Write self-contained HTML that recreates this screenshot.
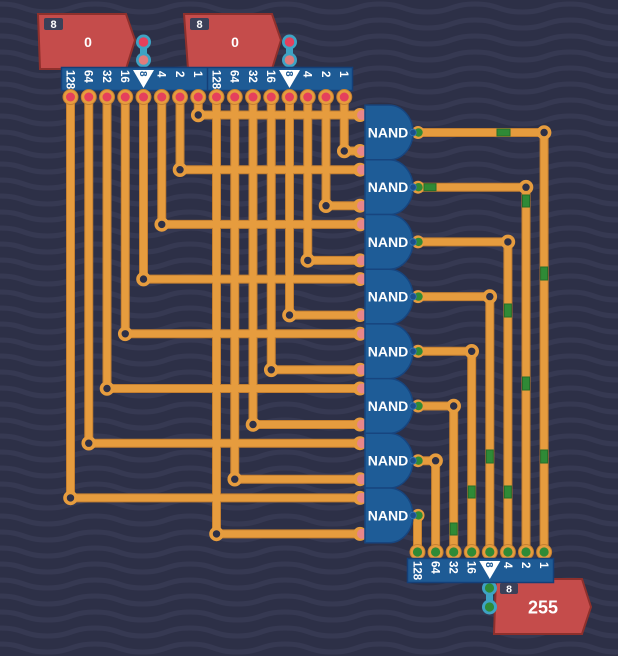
<!DOCTYPE html>
<html><head><meta charset="utf-8"><style>
html,body{margin:0;padding:0;background:#2d3047;}
svg{display:block;}
</style></head><body>
<svg width="618" height="656" viewBox="0 0 618 656" xmlns="http://www.w3.org/2000/svg" font-family="'Liberation Sans', sans-serif">
<defs>
<pattern id="wv" width="95" height="16" patternUnits="userSpaceOnUse">
<path d="M-47.5,12 C-23.75,12 -23.75,4 0,4 C23.75,4 23.75,12 47.5,12 C71.25,12 71.25,4 95,4 C118.75,4 118.75,12 142.5,12" fill="none" stroke="#363952" stroke-width="5"/>
</pattern>
</defs>
<rect width="618" height="656" fill="#2d3047"/>
<rect width="618" height="656" fill="url(#wv)"/>

<!-- input displays -->
<path d="M38,14 L126,14 L135,40 L126,69 L40,69 Z" fill="#c54c4b" stroke="#8e302c" stroke-width="2"/>
<rect x="44" y="18" width="19" height="12" rx="2" fill="#3b4058"/>
<text x="53.5" y="28" font-size="11" font-weight="bold" fill="#fff" text-anchor="middle">8</text>
<text x="88" y="47" font-size="14" font-weight="bold" fill="#fff" text-anchor="middle">0</text>

<path d="M184,14 L272,14 L281,40 L272,69 L188,69 Z" fill="#c54c4b" stroke="#8e302c" stroke-width="2"/>
<rect x="190" y="18" width="19" height="12" rx="2" fill="#3b4058"/>
<text x="199.5" y="28" font-size="11" font-weight="bold" fill="#fff" text-anchor="middle">8</text>
<text x="235" y="47" font-size="14" font-weight="bold" fill="#fff" text-anchor="middle">0</text>

<!-- input links -->
<g fill="#3ea3c4">
<rect x="140" y="42" width="7" height="18"/><circle cx="143.5" cy="42" r="7.5"/><circle cx="143.5" cy="60" r="7.5"/>
<rect x="286" y="42" width="7" height="18"/><circle cx="289.5" cy="42" r="7.5"/><circle cx="289.5" cy="60" r="7.5"/>
</g>
<circle cx="143.5" cy="42" r="4.8" fill="#e5405c"/><circle cx="143.5" cy="60" r="4.8" fill="#e07c7c"/>
<circle cx="289.5" cy="42" r="4.8" fill="#e5405c"/><circle cx="289.5" cy="60" r="4.8" fill="#e07c7c"/>

<!-- input bus -->
<rect x="61.5" y="67.5" width="291" height="23" fill="#1e5b95" stroke="#143f78" stroke-width="1.5"/>
<line x1="207.5" y1="68" x2="207.5" y2="90" stroke="#143f78" stroke-width="1.5"/>
<g fill="#fff" font-size="11.5" font-weight="bold">
<text transform="translate(70.5,70) rotate(90)" dy="0.36em">128</text>
<text transform="translate(88.75,70) rotate(90)" dy="0.36em">64</text>
<text transform="translate(107,70) rotate(90)" dy="0.36em">32</text>
<text transform="translate(125.25,70) rotate(90)" dy="0.36em">16</text>
<text transform="translate(161.75,71) rotate(90)" dy="0.36em">4</text>
<text transform="translate(180,71) rotate(90)" dy="0.36em">2</text>
<text transform="translate(198.25,71) rotate(90)" dy="0.36em">1</text>
<text transform="translate(216.5,70) rotate(90)" dy="0.36em">128</text>
<text transform="translate(234.75,70) rotate(90)" dy="0.36em">64</text>
<text transform="translate(253,70) rotate(90)" dy="0.36em">32</text>
<text transform="translate(271.25,70) rotate(90)" dy="0.36em">16</text>
<text transform="translate(307.75,71) rotate(90)" dy="0.36em">4</text>
<text transform="translate(326,71) rotate(90)" dy="0.36em">2</text>
<text transform="translate(344.25,71) rotate(90)" dy="0.36em">1</text>
</g>
<polygon points="133,70 154,70 143.5,88" fill="#fff"/>
<polygon points="279,70 300,70 289.5,88" fill="#fff"/>
<g fill="#1e5b95" font-size="10" font-weight="bold">
<text transform="translate(143.5,71) rotate(90)" dy="0.36em">8</text>
<text transform="translate(289.5,71) rotate(90)" dy="0.36em">8</text>
</g>

<!-- wires outline -->
<g fill="none" stroke="#c47f30" stroke-width="9" stroke-linejoin="round">
<path d="M198.25,97 V115 H362"/><path d="M344.25,97 V151 H362"/>
<path d="M180,97 V169.7 H362"/><path d="M326,97 V205.7 H362"/>
<path d="M161.75,97 V224.4 H362"/><path d="M307.75,97 V260.4 H362"/>
<path d="M143.5,97 V279.1 H362"/><path d="M289.5,97 V315.1 H362"/>
<path d="M125.25,97 V333.8 H362"/><path d="M271.25,97 V369.8 H362"/>
<path d="M107,97 V388.5 H362"/><path d="M253,97 V424.5 H362"/>
<path d="M88.75,97 V443.2 H362"/><path d="M234.75,97 V479.2 H362"/>
<path d="M70.5,97 V497.9 H362"/><path d="M216.5,97 V533.9 H362"/>
<path d="M418,132.5 H544.1 V552"/><path d="M418,187.2 H526 V552"/>
<path d="M418,241.9 H507.9 V552"/><path d="M418,296.6 H489.8 V552"/>
<path d="M418,351.3 H471.7 V552"/><path d="M418,406 H453.7 V552"/>
<path d="M418,460.7 H435.6 V552"/><path d="M417.5,515.4 V552"/>
</g>
<g fill="none" stroke="#e69c3e" stroke-width="7" stroke-linejoin="round">
<path d="M198.25,97 V115 H362"/><path d="M344.25,97 V151 H362"/>
<path d="M180,97 V169.7 H362"/><path d="M326,97 V205.7 H362"/>
<path d="M161.75,97 V224.4 H362"/><path d="M307.75,97 V260.4 H362"/>
<path d="M143.5,97 V279.1 H362"/><path d="M289.5,97 V315.1 H362"/>
<path d="M125.25,97 V333.8 H362"/><path d="M271.25,97 V369.8 H362"/>
<path d="M107,97 V388.5 H362"/><path d="M253,97 V424.5 H362"/>
<path d="M88.75,97 V443.2 H362"/><path d="M234.75,97 V479.2 H362"/>
<path d="M70.5,97 V497.9 H362"/><path d="M216.5,97 V533.9 H362"/>
<path d="M418,132.5 H544.1 V552"/><path d="M418,187.2 H526 V552"/>
<path d="M418,241.9 H507.9 V552"/><path d="M418,296.6 H489.8 V552"/>
<path d="M418,351.3 H471.7 V552"/><path d="M418,406 H453.7 V552"/>
<path d="M418,460.7 H435.6 V552"/><path d="M417.5,515.4 V552"/>
</g>

<!-- top pins -->
<g fill="#e69c3e" stroke="#c47f30" stroke-width="1">
<circle cx="70.5" cy="97" r="7.5"/><circle cx="88.75" cy="97" r="7.5"/><circle cx="107" cy="97" r="7.5"/><circle cx="125.25" cy="97" r="7.5"/>
<circle cx="143.5" cy="97" r="7.5"/><circle cx="161.75" cy="97" r="7.5"/><circle cx="180" cy="97" r="7.5"/><circle cx="198.25" cy="97" r="7.5"/>
<circle cx="216.5" cy="97" r="7.5"/><circle cx="234.75" cy="97" r="7.5"/><circle cx="253" cy="97" r="7.5"/><circle cx="271.25" cy="97" r="7.5"/>
<circle cx="289.5" cy="97" r="7.5"/><circle cx="307.75" cy="97" r="7.5"/><circle cx="326" cy="97" r="7.5"/><circle cx="344.25" cy="97" r="7.5"/>
</g>
<g fill="#e5405c">
<circle cx="70.5" cy="97" r="4.5"/><circle cx="88.75" cy="97" r="4.5"/><circle cx="107" cy="97" r="4.5"/><circle cx="125.25" cy="97" r="4.5"/>
<circle cx="143.5" cy="97" r="4.5"/><circle cx="161.75" cy="97" r="4.5"/><circle cx="180" cy="97" r="4.5"/><circle cx="198.25" cy="97" r="4.5"/>
<circle cx="216.5" cy="97" r="4.5"/><circle cx="234.75" cy="97" r="4.5"/><circle cx="253" cy="97" r="4.5"/><circle cx="271.25" cy="97" r="4.5"/>
<circle cx="289.5" cy="97" r="4.5"/><circle cx="307.75" cy="97" r="4.5"/><circle cx="326" cy="97" r="4.5"/><circle cx="344.25" cy="97" r="4.5"/>
</g>

<!-- joints -->
<g fill="#2d3047" stroke="#e69c3e" stroke-width="3.6">
<circle cx="198.25" cy="115" r="5.5"/><circle cx="344.25" cy="151" r="5.5"/>
<circle cx="180" cy="169.7" r="5.5"/><circle cx="326" cy="205.7" r="5.5"/>
<circle cx="161.75" cy="224.4" r="5.5"/><circle cx="307.75" cy="260.4" r="5.5"/>
<circle cx="143.5" cy="279.1" r="5.5"/><circle cx="289.5" cy="315.1" r="5.5"/>
<circle cx="125.25" cy="333.8" r="5.5"/><circle cx="271.25" cy="369.8" r="5.5"/>
<circle cx="107" cy="388.5" r="5.5"/><circle cx="253" cy="424.5" r="5.5"/>
<circle cx="88.75" cy="443.2" r="5.5"/><circle cx="234.75" cy="479.2" r="5.5"/>
<circle cx="70.5" cy="497.9" r="5.5"/><circle cx="216.5" cy="533.9" r="5.5"/>
<circle cx="544.1" cy="132.5" r="5.5"/><circle cx="526" cy="187.2" r="5.5"/>
<circle cx="507.9" cy="241.9" r="5.5"/><circle cx="489.8" cy="296.6" r="5.5"/>
<circle cx="471.7" cy="351.3" r="5.5"/><circle cx="453.7" cy="406" r="5.5"/>
<circle cx="435.6" cy="460.7" r="5.5"/>
</g>

<!-- gate input pins -->
<g fill="#e69c3e">
<circle cx="360" cy="115" r="7"/><circle cx="360" cy="151" r="7"/>
<circle cx="360" cy="169.7" r="7"/><circle cx="360" cy="205.7" r="7"/>
<circle cx="360" cy="224.4" r="7"/><circle cx="360" cy="260.4" r="7"/>
<circle cx="360" cy="279.1" r="7"/><circle cx="360" cy="315.1" r="7"/>
<circle cx="360" cy="333.8" r="7"/><circle cx="360" cy="369.8" r="7"/>
<circle cx="360" cy="388.5" r="7"/><circle cx="360" cy="424.5" r="7"/>
<circle cx="360" cy="443.2" r="7"/><circle cx="360" cy="479.2" r="7"/>
<circle cx="360" cy="497.9" r="7"/><circle cx="360" cy="533.9" r="7"/>
</g>
<g fill="#e8868a">
<circle cx="362" cy="115" r="5"/><circle cx="362" cy="151" r="5"/>
<circle cx="362" cy="169.7" r="5"/><circle cx="362" cy="205.7" r="5"/>
<circle cx="362" cy="224.4" r="5"/><circle cx="362" cy="260.4" r="5"/>
<circle cx="362" cy="279.1" r="5"/><circle cx="362" cy="315.1" r="5"/>
<circle cx="362" cy="333.8" r="5"/><circle cx="362" cy="369.8" r="5"/>
<circle cx="362" cy="388.5" r="5"/><circle cx="362" cy="424.5" r="5"/>
<circle cx="362" cy="443.2" r="5"/><circle cx="362" cy="479.2" r="5"/>
<circle cx="362" cy="497.9" r="5"/><circle cx="362" cy="533.9" r="5"/>
</g>

<!-- gate output pins (ring behind) -->
<g fill="#e69c3e">
<circle cx="418" cy="132.5" r="6.5"/><circle cx="418" cy="187.2" r="6.5"/><circle cx="418" cy="241.9" r="6.5"/><circle cx="418" cy="296.6" r="6.5"/>
<circle cx="418" cy="351.3" r="6.5"/><circle cx="418" cy="406" r="6.5"/><circle cx="418" cy="460.7" r="6.5"/><circle cx="418" cy="515.4" r="6.5"/>
</g>
<g fill="#2f8a36">
<circle cx="418.5" cy="132.5" r="4.2"/><circle cx="418.5" cy="187.2" r="4.2"/><circle cx="418.5" cy="241.9" r="4.2"/><circle cx="418.5" cy="296.6" r="4.2"/>
<circle cx="418.5" cy="351.3" r="4.2"/><circle cx="418.5" cy="406" r="4.2"/><circle cx="418.5" cy="460.7" r="4.2"/><circle cx="418.5" cy="515.4" r="4.2"/>
</g>

<!-- gates -->
<g fill="#1e5c97" stroke="#17457f" stroke-width="1.5">
<path d="M365,105.1 H389 A24,27.4 0 0 1 389,159.9 H365 Z"/>
<path d="M365,159.8 H389 A24,27.4 0 0 1 389,214.6 H365 Z"/>
<path d="M365,214.5 H389 A24,27.4 0 0 1 389,269.3 H365 Z"/>
<path d="M365,269.2 H389 A24,27.4 0 0 1 389,324 H365 Z"/>
<path d="M365,323.9 H389 A24,27.4 0 0 1 389,378.7 H365 Z"/>
<path d="M365,378.6 H389 A24,27.4 0 0 1 389,433.4 H365 Z"/>
<path d="M365,433.3 H389 A24,27.4 0 0 1 389,488.1 H365 Z"/>
<path d="M365,488 H389 A24,27.4 0 0 1 389,542.8 H365 Z"/>
</g>
<g fill="#fff" font-size="14" font-weight="bold" text-anchor="middle">
<text x="388" y="132.5" dy="0.36em">NAND</text>
<text x="388" y="187.2" dy="0.36em">NAND</text>
<text x="388" y="241.9" dy="0.36em">NAND</text>
<text x="388" y="296.6" dy="0.36em">NAND</text>
<text x="388" y="351.3" dy="0.36em">NAND</text>
<text x="388" y="406" dy="0.36em">NAND</text>
<text x="388" y="460.7" dy="0.36em">NAND</text>
<text x="388" y="515.4" dy="0.36em">NAND</text>
</g>
<g fill="#1a4f8c" stroke="#3370b0" stroke-width="1">
<circle cx="413" cy="132.5" r="3.3"/><circle cx="413" cy="187.2" r="3.3"/><circle cx="413" cy="241.9" r="3.3"/><circle cx="413" cy="296.6" r="3.3"/>
<circle cx="413" cy="351.3" r="3.3"/><circle cx="413" cy="406" r="3.3"/><circle cx="413" cy="460.7" r="3.3"/><circle cx="413" cy="515.4" r="3.3"/>
</g>

<!-- green signal marks -->
<g fill="#2f8a36" stroke="#246e2a" stroke-width="1">
<rect x="497" y="129" width="13" height="7"/>
<rect x="424" y="183.7" width="12" height="7"/>
<rect x="522.5" y="195" width="7" height="12"/>
<rect x="522.5" y="377" width="7" height="13"/>
<rect x="540.6" y="267" width="7" height="13"/>
<rect x="540.6" y="450" width="7" height="13"/>
<rect x="504.4" y="304" width="7" height="13"/>
<rect x="504.4" y="486" width="7" height="12"/>
<rect x="486.3" y="450" width="7" height="13"/>
<rect x="468.2" y="486" width="7" height="12"/>
<rect x="450.2" y="523" width="7" height="12"/>
</g>

<!-- output pins -->
<g fill="#e69c3e" stroke="#c47f30" stroke-width="1">
<circle cx="417.5" cy="552" r="7.5"/><circle cx="435.6" cy="552" r="7.5"/><circle cx="453.7" cy="552" r="7.5"/><circle cx="471.7" cy="552" r="7.5"/>
<circle cx="489.8" cy="552" r="7.5"/><circle cx="507.9" cy="552" r="7.5"/><circle cx="526" cy="552" r="7.5"/><circle cx="544.1" cy="552" r="7.5"/>
</g>
<g fill="#2f8a36">
<circle cx="417.5" cy="552" r="4.6"/><circle cx="435.6" cy="552" r="4.6"/><circle cx="453.7" cy="552" r="4.6"/><circle cx="471.7" cy="552" r="4.6"/>
<circle cx="489.8" cy="552" r="4.6"/><circle cx="507.9" cy="552" r="4.6"/><circle cx="526" cy="552" r="4.6"/><circle cx="544.1" cy="552" r="4.6"/>
</g>

<!-- output display -->
<path d="M496,579 L582,579 L591,607 L582,634 L494,634 Z" fill="#c54c4b" stroke="#8e302c" stroke-width="2"/>
<text x="543" y="613.5" font-size="18" font-weight="bold" fill="#fff" text-anchor="middle">255</text>

<!-- output link -->
<g fill="#3ea3c4">
<rect x="486" y="588" width="7" height="19"/><circle cx="489.5" cy="588" r="7.5"/><circle cx="489.5" cy="607" r="7.5"/>
</g>
<circle cx="489.5" cy="588" r="4.6" fill="#2f8a36"/><circle cx="489.5" cy="607" r="4.6" fill="#2f8a36"/>

<!-- output bus -->
<rect x="407.5" y="558.5" width="146" height="24" fill="#1e5b95" stroke="#143f78" stroke-width="1.5"/>
<g fill="#fff" font-size="11.5" font-weight="bold">
<text transform="translate(417.5,561) rotate(90)" dy="0.36em">128</text>
<text transform="translate(435.6,561) rotate(90)" dy="0.36em">64</text>
<text transform="translate(453.7,561) rotate(90)" dy="0.36em">32</text>
<text transform="translate(471.7,561) rotate(90)" dy="0.36em">16</text>
<text transform="translate(507.9,562) rotate(90)" dy="0.36em">4</text>
<text transform="translate(526,562) rotate(90)" dy="0.36em">2</text>
<text transform="translate(544.1,562) rotate(90)" dy="0.36em">1</text>
</g>
<polygon points="479.3,561 500.3,561 489.8,579" fill="#fff"/>
<text transform="translate(489.8,562) rotate(90)" dy="0.36em" fill="#1e5b95" font-size="10" font-weight="bold">8</text>

<rect x="500" y="583" width="18" height="11" rx="2" fill="#3b4058"/>
<text x="509" y="592.5" font-size="10.5" font-weight="bold" fill="#fff" text-anchor="middle">8</text>
</svg>
</body></html>
